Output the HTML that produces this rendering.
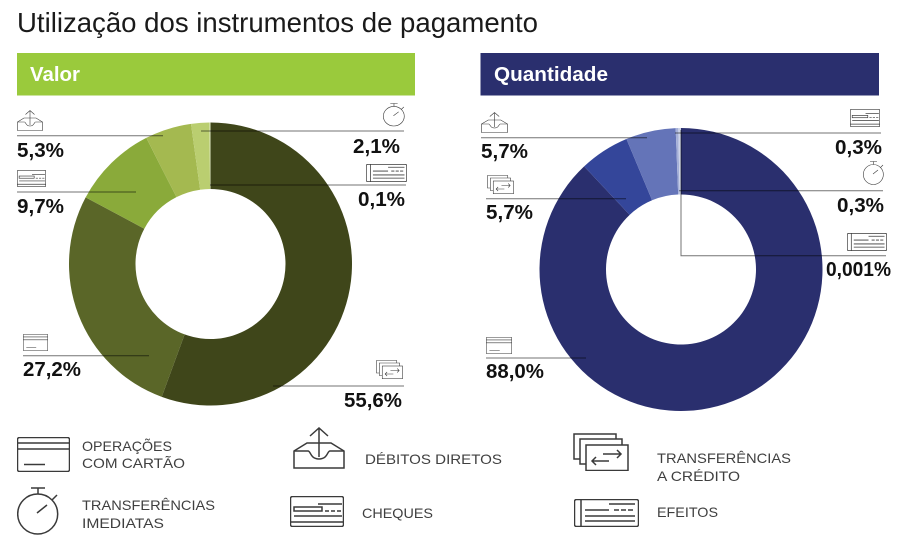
<!DOCTYPE html>
<html lang="pt">
<head>
<meta charset="utf-8">
<title>Utilização dos instrumentos de pagamento</title>
<style>
html,body{margin:0;padding:0;background:#fff;width:900px;height:558px;overflow:hidden}
svg{display:block;filter:blur(.35px)}
text{font-family:"Liberation Sans",sans-serif}
.pct{font-size:20.5px;font-weight:700;fill:#111}
.leg{font-size:14px;fill:#3f3f3f}
.ic{fill:none;stroke:#3a3a3a}
.ic *{vector-effect:non-scaling-stroke}
</style>
</head>
<body>
<svg id="chart" xmlns="http://www.w3.org/2000/svg" width="900" height="558" viewBox="0 0 900 558">
<defs>
<symbol id="i-card" viewBox="0 0 53 35" preserveAspectRatio="none"><rect x="0.5" y="0.5" width="52" height="34" rx="2"/><path d="M0 6H53M0 12H53M7 27.5H28"/></symbol>
<symbol id="i-debit" viewBox="0 0 52 42" preserveAspectRatio="none"><path d="M1 24L14 16H38L51 24V41H1Z"/><path d="M1 24H15C18 24 17 32 26 32C35 32 34 24 37 24H51"/><path d="M26 30V1M17 9L26 1L35 9"/></symbol>
<symbol id="i-watch" viewBox="0 0 44 48" preserveAspectRatio="none"><circle cx="20.7" cy="27" r="20"/><path d="M14 1H28M21 1V7M35 13L40 8M20 26L30 18"/></symbol>
<symbol id="i-cheque" viewBox="0 0 54 31" preserveAspectRatio="none"><rect x="0.5" y="0.5" width="53" height="30" rx="2"/><path d="M28 8H52"/><rect x="4" y="11" width="28" height="4"/><path d="M35 15H51" stroke-dasharray="4 2"/><path d="M4 20H52M0 26H54"/></symbol>
<symbol id="i-bill" viewBox="0 0 65 28" preserveAspectRatio="none"><rect x="0.5" y="0.5" width="64" height="27" rx="2"/><path d="M7 0V28M35 5H61M11 11H35M11 17H61M11 22H61"/><path d="M40 11H61" stroke-dasharray="5 2"/></symbol>
<symbol id="i-transfer" viewBox="0 0 56 38" preserveAspectRatio="none"><path d="M7 26H1V1H43V6"/><path d="M13 31H7V6H49V12"/><rect x="13" y="12" width="42" height="25.5"/><path d="M30 21H48M44 17L48 21L44 25M36 28H19M23 24L19 28L23 32"/></symbol>
</defs>

<text x="17" y="32" font-size="28" fill="#1a1a1a" textLength="521" lengthAdjust="spacingAndGlyphs">Utilização dos instrumentos de pagamento</text>

<rect x="17" y="53" width="398" height="42.5" fill="#9aca3c"/>
<text x="30" y="81" font-size="20" font-weight="700" fill="#fff" textLength="50" lengthAdjust="spacingAndGlyphs">Valor</text>
<rect x="480.5" y="53" width="398.5" height="42.5" fill="#2a2f6e"/>
<text x="494" y="81" font-size="20" font-weight="700" fill="#fff" textLength="114" lengthAdjust="spacingAndGlyphs">Quantidade</text>

<g id="valor-donut"></g>
<g id="quantidade-donut"></g>
<g id="callouts"></g>

<g>
  <g>
    <use class="ic" href="#i-card" x="17" y="437" width="53" height="35" stroke-width="1.5"/>
    <text class="leg" x="82" y="451" textLength="90" lengthAdjust="spacingAndGlyphs">OPERAÇÕES</text>
    <text class="leg" x="82" y="468" textLength="103" lengthAdjust="spacingAndGlyphs">COM CARTÃO</text>
  </g>
  <g>
    <use class="ic" href="#i-watch" x="17" y="487" width="44" height="48" stroke-width="1.5"/>
    <text class="leg" x="82" y="510" textLength="133" lengthAdjust="spacingAndGlyphs">TRANSFERÊNCIAS</text>
    <text class="leg" x="82" y="528" textLength="82" lengthAdjust="spacingAndGlyphs">IMEDIATAS</text>
  </g>
  <g>
    <use class="ic" href="#i-debit" x="293" y="427" width="52" height="42" stroke-width="1.5"/>
    <text class="leg" x="365" y="464" textLength="137" lengthAdjust="spacingAndGlyphs">DÉBITOS DIRETOS</text>
  </g>
  <g>
    <use class="ic" href="#i-cheque" x="290" y="496" width="54" height="31" stroke-width="1.5"/>
    <text class="leg" x="362" y="518" textLength="71" lengthAdjust="spacingAndGlyphs">CHEQUES</text>
  </g>
  <g>
    <use class="ic" href="#i-transfer" x="573" y="433" width="56" height="38" stroke-width="1.5"/>
    <text class="leg" x="657" y="463" textLength="134" lengthAdjust="spacingAndGlyphs">TRANSFERÊNCIAS</text>
    <text class="leg" x="657" y="481" textLength="83" lengthAdjust="spacingAndGlyphs">A CRÉDITO</text>
  </g>
  <g>
    <use class="ic" href="#i-bill" x="574" y="499" width="65" height="28" stroke-width="1.5"/>
    <text class="leg" x="657" y="517" textLength="61" lengthAdjust="spacingAndGlyphs">EFEITOS</text>
  </g>
</g>
</svg>

<script>
// Data, in clockwise slice order starting at 12 o'clock
const valorCategories = ['transferencias-credito','operacoes-cartao','cheques','debitos-diretos','transferencias-imediatas','efeitos'];
const valorValues = [55.6, 27.2, 9.7, 5.3, 2.1, 0.1];
const valorLabels = ['55,6%','27,2%','9,7%','5,3%','2,1%','0,1%'];
const quantidadeCategories = ['operacoes-cartao','transferencias-credito','debitos-diretos','cheques','transferencias-imediatas','efeitos'];
const quantidadeValues = [88.0, 5.7, 5.7, 0.3, 0.3, 0.001];
const quantidadeLabels = ['88,0%','5,7%','5,7%','0,3%','0,3%','0,001%'];

// Styling and layout (separate from data)
const valorColors = ['#3f461a','#5a6628','#8aaa3a','#a4b950','#bace70','#e4edc8'];
const quantidadeColors = ['#2a2f6e','#34469a','#6474b8','#a5b0d8','#ccd3e8','#e8ebf5'];
const iconFor = {
  'transferencias-credito':'#i-transfer','operacoes-cartao':'#i-card','cheques':'#i-cheque',
  'debitos-diretos':'#i-debit','transferencias-imediatas':'#i-watch','efeitos':'#i-bill'
};
const valorCallouts = [
  {x1:273,x2:404,y:386,tx:402,ty:407,a:'end',tw:58,ix:376,iy:360,iw:27,ih:19},
  {x1:23,x2:149,y:355.7,tx:23,ty:376,a:'start',tw:58,ix:23,iy:334,iw:25,ih:17},
  {x1:17,x2:136,y:192,tx:17,ty:213,a:'start',tw:47,ix:17,iy:170,iw:29,ih:17},
  {x1:17,x2:163,y:135.7,tx:17,ty:157,a:'start',tw:47,ix:17,iy:110,iw:26,ih:21},
  {x1:201,x2:404,y:131,tx:400,ty:153,a:'end',tw:47,ix:383,iy:103,iw:23,ih:23.5},
  {x1:210,x2:406,y:185,tx:405,ty:206,a:'end',tw:47,ix:366,iy:164,iw:41,ih:18}
];
const quantidadeCallouts = [
  {x1:486,x2:586,y:358,tx:486,ty:378,a:'start',tw:58,ix:486,iy:337,iw:26,ih:17},
  {x1:486,x2:626,y:198.7,tx:486,ty:219,a:'start',tw:47,ix:487,iy:175,iw:27,ih:19},
  {x1:481,x2:647,y:137.7,tx:481,ty:158,a:'start',tw:47,ix:481,iy:112,iw:27,ih:21},
  {x1:675,x2:881,y:133,tx:882,ty:154,a:'end',tw:47,ix:850,iy:109,iw:30,ih:18},
  {x1:679,x2:883,y:190.7,tx:884,ty:212,a:'end',tw:47,ix:863,iy:161,iw:22,ih:24},
  {x1:681,x2:886,y:255.7,vy:130,tx:891,ty:276,a:'end',tw:65,ix:847,iy:233,iw:40,ih:18}
];

const NS = 'http://www.w3.org/2000/svg';
const OUTER_R = 141.5;
const INNER_R = 75;

function angleScale(cumulative, total) {
  return cumulative / total * 2 * Math.PI;
}
function polar(cx, cy, r, a) {
  return [cx + r * Math.sin(a), cy - r * Math.cos(a)];
}
function arcPath(cx, cy, a0, a1) {
  const large = a1 - a0 > Math.PI ? 1 : 0;
  const p0 = polar(cx, cy, OUTER_R, a0), p1 = polar(cx, cy, OUTER_R, a1);
  const p2 = polar(cx, cy, INNER_R, a1), p3 = polar(cx, cy, INNER_R, a0);
  return 'M' + p0 + 'A' + OUTER_R + ' ' + OUTER_R + ' 0 ' + large + ' 1 ' + p1 +
         'L' + p2 + 'A' + INNER_R + ' ' + INNER_R + ' 0 ' + large + ' 0 ' + p3 + 'Z';
}
function drawDonut(groupId, prefix, cx, cy, values, categories, colors) {
  const g = document.getElementById(groupId);
  const total = values.reduce(function (s, v) { return s + v; }, 0);
  let cum = 0;
  values.forEach(function (v, i) {
    const a0 = angleScale(cum, total);
    cum += v;
    const a1 = angleScale(cum, total);
    const p = document.createElementNS(NS, 'path');
    p.setAttribute('d', arcPath(cx, cy, a0, a1));
    p.setAttribute('fill', colors[i]);
    
    
    g.appendChild(p);
  });
}
function drawCallouts(prefix, layout, labels, categories) {
  const g = document.getElementById('callouts');
  layout.forEach(function (c, i) {
    const line = document.createElementNS(NS, 'path');
    if (c.vy !== undefined) {
      line.setAttribute('d', 'M' + c.x1 + ' ' + c.vy + 'V' + c.y + 'H' + c.x2);
    } else {
      line.setAttribute('d', 'M' + c.x1 + ' ' + c.y + 'H' + c.x2);
    }
    line.setAttribute('fill', 'none');
    line.setAttribute('stroke', 'rgba(0,0,0,.55)');
    line.setAttribute('stroke-width', '1');
    
    
    g.appendChild(line);

    const t = document.createElementNS(NS, 'text');
    t.textContent = labels[i];
    t.setAttribute('class', 'pct');
    t.setAttribute('x', c.tx);
    t.setAttribute('y', c.ty);
    t.setAttribute('text-anchor', c.a);
    t.setAttribute('textLength', c.tw);
    t.setAttribute('lengthAdjust', 'spacingAndGlyphs');
    
    
    g.appendChild(t);

    const u = document.createElementNS(NS, 'use');
    u.setAttribute('href', iconFor[categories[i]]);
    u.setAttribute('class', 'ic');
    u.setAttribute('x', c.ix);
    u.setAttribute('y', c.iy);
    u.setAttribute('width', c.iw);
    u.setAttribute('height', c.ih);
    u.setAttribute('stroke-width', '1.2');
    
    
    g.appendChild(u);
  });
}

drawDonut('valor-donut', 'valor', 210.5, 264, valorValues, valorCategories, valorColors);
drawDonut('quantidade-donut', 'quantidade', 681, 269.5, quantidadeValues, quantidadeCategories, quantidadeColors);
drawCallouts('valor', valorCallouts, valorLabels, valorCategories);
drawCallouts('quantidade', quantidadeCallouts, quantidadeLabels, quantidadeCategories);
</script>
</body>
</html>
